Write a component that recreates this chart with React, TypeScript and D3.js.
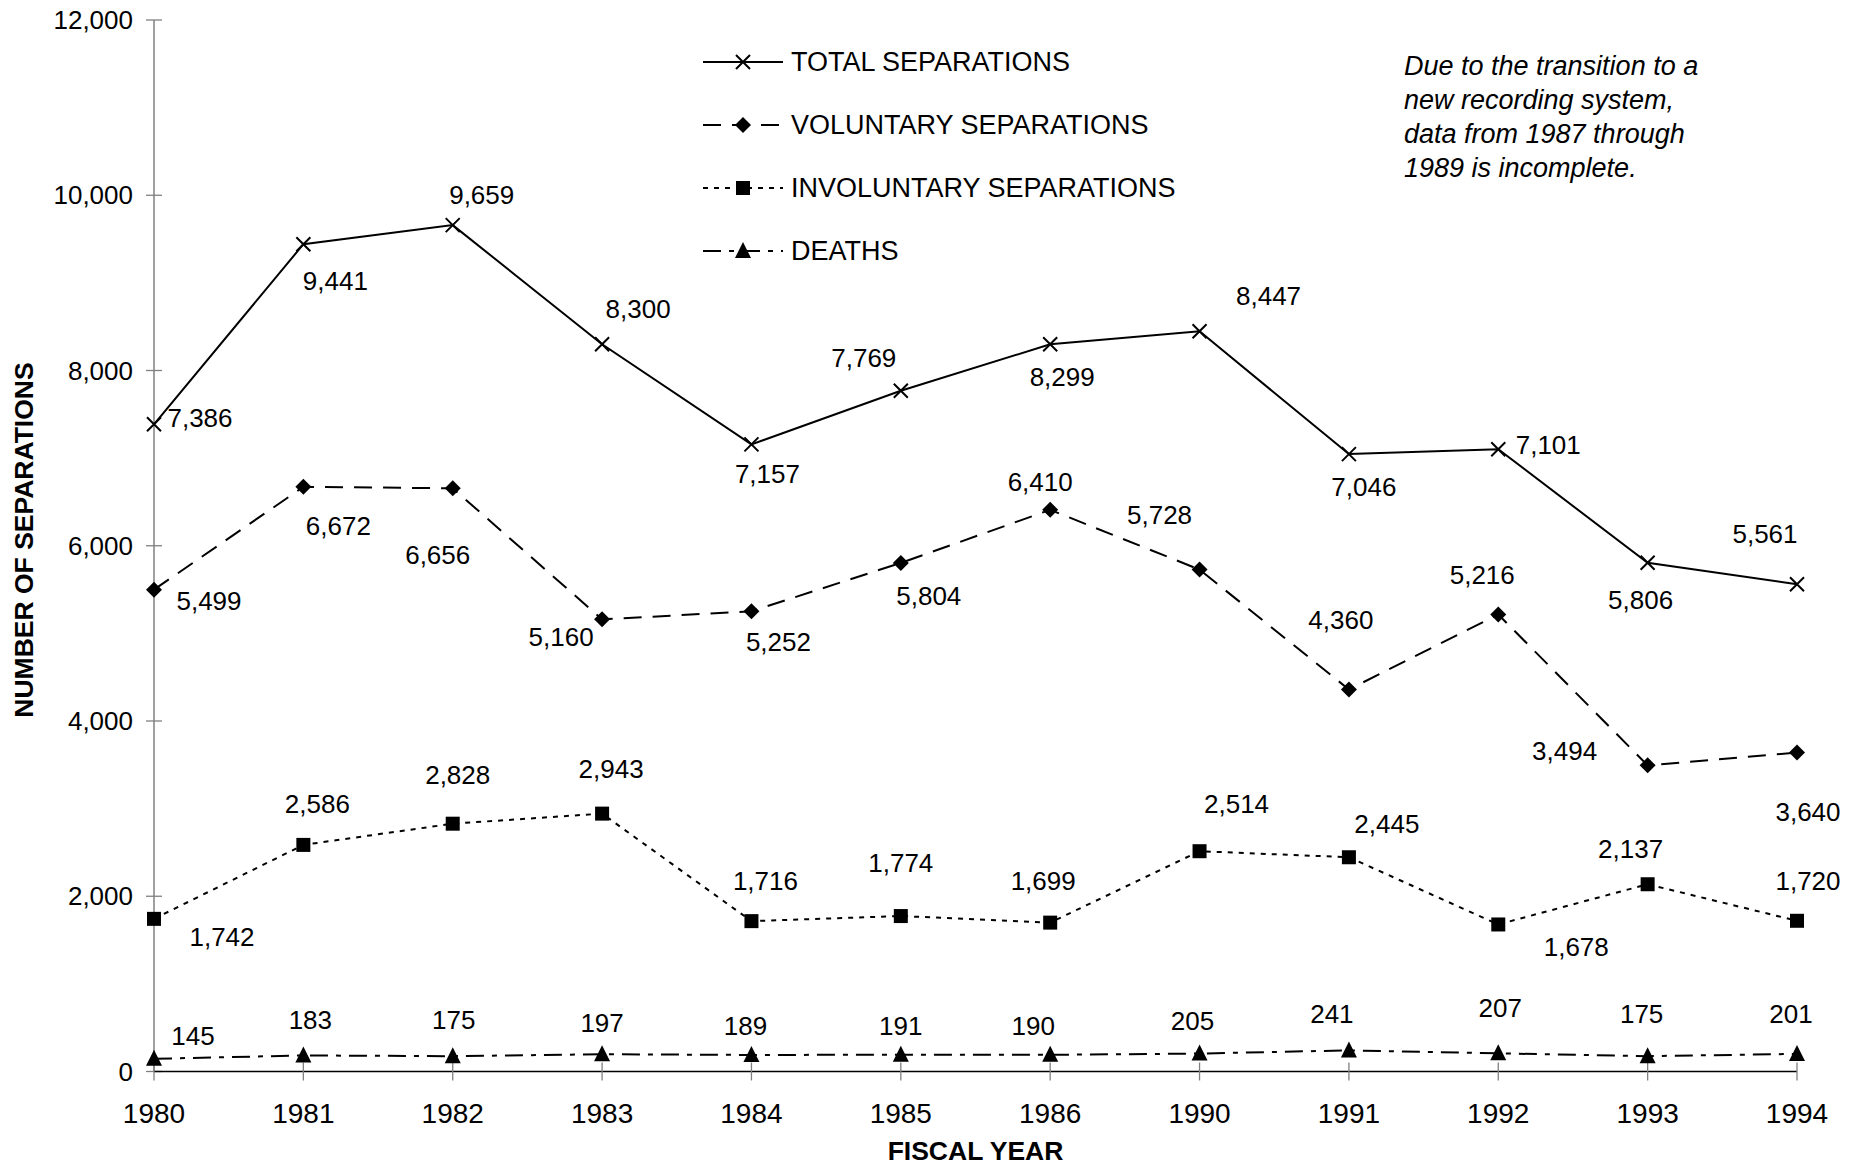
import React from "react";
import * as d3 from "d3";

const years = ["1980", "1981", "1982", "1983", "1984", "1985", "1986", "1990", "1991", "1992", "1993", "1994"];
const totalSeparations = [7386, 9441, 9659, 8300, 7157, 7769, 8299, 8447, 7046, 7101, 5806, 5561];
const voluntarySeparations = [5499, 6672, 6656, 5160, 5252, 5804, 6410, 5728, 4360, 5216, 3494, 3640];
const involuntarySeparations = [1742, 2586, 2828, 2943, 1716, 1774, 1699, 2514, 2445, 1678, 2137, 1720];
const deaths = [145, 183, 175, 197, 189, 191, 190, 205, 241, 207, 175, 201];
const yTicks = [0, 2000, 4000, 6000, 8000, 10000, 12000];
const seriesNames = ["TOTAL SEPARATIONS", "VOLUNTARY SEPARATIONS", "INVOLUNTARY SEPARATIONS", "DEATHS"];
const noteLines = ["Due to the transition to a", "new recording system,", "data from 1987 through", "1989 is incomplete."];

// layout: label offsets (dx, dy) from each point, in pixels
const totalOffsets = [[46, -6], [32, 37], [29, -30], [36, -35], [16, 30], [-37, -33], [12, 33], [69, -35], [15, 33], [50, -4], [-7, 37], [-32, -50]];
const voluntaryOffsets = [[55, 11], [35, 39], [-15, 67], [-41, 18], [27, 31], [28, 33], [-10, -28], [-40, -55], [-8, -69], [-16, -39], [-83, -14], [11, 59]];
const involuntaryOffsets = [[68, 18], [14, -41], [5, -49], [9, -45], [14, -40], [0, -53], [-7, -42], [37, -47], [38, -33], [78, 23], [-17, -35], [11, -40]];
const deathOffsets = [[39, -23], [7, -35], [1, -36], [0, -31], [-6, -29], [0, -29], [-17, -29], [-7, -33], [-17, -36], [2, -45], [-6, -42], [-6, -40]];

const FONT = "'Liberation Sans', Arial, Helvetica, sans-serif";

function Marker({ kind, x, y }: { kind: string; x: number; y: number }) {
  if (kind === "x") {
    return <path d={`M${x - 7},${y - 7}L${x + 7},${y + 7}M${x - 7},${y + 7}L${x + 7},${y - 7}`} stroke="#000" strokeWidth={2} fill="none" />;
  }
  if (kind === "diamond") {
    return <path d={`M${x},${y - 8}L${x + 8},${y}L${x},${y + 8}L${x - 8},${y}Z`} fill="#000" />;
  }
  if (kind === "square") {
    return <rect x={x - 7} y={y - 7} width={14} height={14} fill="#000" />;
  }
  return <path d={`M${x},${y - 9}L${x + 8},${y + 7}L${x - 8},${y + 7}Z`} fill="#000" />;
}

export default function App() {
  const width = 1864;
  const height = 1165;
  const x = d3.scalePoint<string>().domain(years).range([154, 1797]);
  const y = d3.scaleLinear().domain([0, 12000]).range([1071.5, 20]);
  const fmt = d3.format(",");

  const series = [
    { name: seriesNames[0], values: totalSeparations, offsets: totalOffsets, dash: "none", marker: "x" },
    { name: seriesNames[1], values: voluntarySeparations, offsets: voluntaryOffsets, dash: "18,11", marker: "diamond" },
    { name: seriesNames[2], values: involuntarySeparations, offsets: involuntaryOffsets, dash: "5,6", marker: "square" },
    { name: seriesNames[3], values: deaths, offsets: deathOffsets, dash: "18,8,5,8", marker: "triangle" },
  ];

  const line = d3
    .line<number>()
    .x((_, i) => x(years[i]) as number)
    .y((v) => y(v));

  const x0 = x(years[0]) as number;
  const x1 = x(years[years.length - 1]) as number;
  const yZero = y(0);

  return (
    <svg width={width} height={height} style={{ position: "absolute", left: 0, top: 0, background: "#fff" }} fontFamily={FONT}>
      <rect width={width} height={height} fill="#fff" />
      {/* y axis */}
      <line x1={x0} x2={x0} y1={y(12000)} y2={yZero} stroke="#808080" strokeWidth={1.5} />
      {yTicks.map((t) => (
        <g key={t}>
          <line x1={x0 - 8} x2={x0 + 8} y1={y(t)} y2={y(t)} stroke="#808080" strokeWidth={1.3} />
          <text x={x0 - 21} y={y(t)} textAnchor="end" dominantBaseline="central" fontSize={26} fill="#000">
            {fmt(t)}
          </text>
        </g>
      ))}
      {/* x axis */}
      <line x1={x0} x2={x1} y1={yZero} y2={yZero} stroke="#000" strokeWidth={1.3} />
      {years.map((yr) => (
        <g key={yr}>
          <line x1={x(yr)} x2={x(yr)} y1={yZero - 9} y2={yZero + 9} stroke="#808080" strokeWidth={1.3} />
          <text x={x(yr)} y={1123} textAnchor="middle" fontSize={28} fill="#000">
            {yr}
          </text>
        </g>
      ))}
      {/* axis titles */}
      <text x={975.5} y={1160} textAnchor="middle" fontSize={26.5} fontWeight="bold" fill="#000">
        FISCAL YEAR
      </text>
      <text transform="translate(33,540) rotate(-90)" textAnchor="middle" fontSize={26.5} fontWeight="bold" fill="#000">
        NUMBER OF SEPARATIONS
      </text>
      {/* series */}
      {series.map((s) => (
        <g key={s.name}>
          <path d={line(s.values) as string} fill="none" stroke="#000" strokeWidth={2} strokeDasharray={s.dash} />
          {s.values.map((v, i) => (
            <Marker key={i} kind={s.marker} x={x(years[i]) as number} y={y(v)} />
          ))}
          {s.values.map((v, i) => (
            <text
              key={"l" + i}
              x={(x(years[i]) as number) + s.offsets[i][0]}
              y={y(v) + s.offsets[i][1]}
              textAnchor="middle"
              dominantBaseline="central"
              fontSize={26}
              fill="#000"
            >
              {fmt(v)}
            </text>
          ))}
        </g>
      ))}
      {/* legend */}
      {series.map((s, i) => {
        const ly = 62 + i * 63;
        return (
          <g key={"leg" + i}>
            <line x1={703} x2={783} y1={ly} y2={ly} stroke="#000" strokeWidth={2} strokeDasharray={s.dash} />
            <Marker kind={s.marker} x={743} y={ly} />
            <text x={791} y={ly} dominantBaseline="central" fontSize={27} fill="#000">
              {s.name}
            </text>
          </g>
        );
      })}
      {/* note */}
      {noteLines.map((t, i) => (
        <text key={t} x={1404} y={75 + i * 34} fontSize={27} fontStyle="italic" fill="#000">
          {t}
        </text>
      ))}
    </svg>
  );
}
